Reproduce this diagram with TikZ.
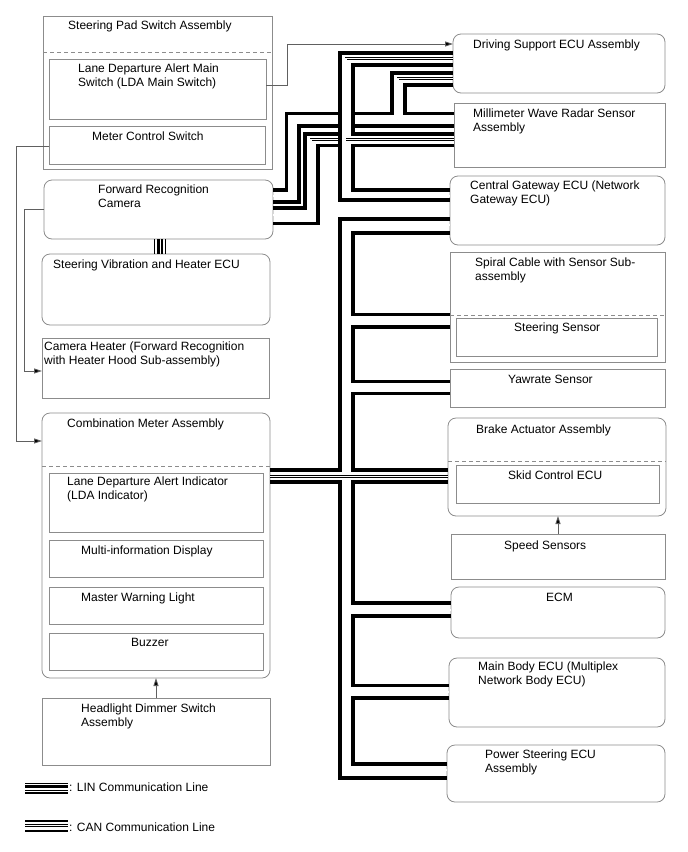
\documentclass[tikz,border=0pt]{standalone}
\usepackage{fontspec}
\setmainfont{Liberation Sans}
\usetikzlibrary{arrows.meta}
\definecolor{boxgray}{HTML}{8C8C8C}
\definecolor{siggray}{HTML}{606060}
\begin{document}
\begin{tikzpicture}[x=1pt,y=-1pt,
  bx/.style={draw=boxgray,line width=0.8pt,inner sep=0pt,outer sep=0pt,anchor=north west},
  rbx/.style={bx,rounded corners=8pt},
  lbl/.style={anchor=north west,inner sep=0pt,align=left,font=\fontsize{12}{14.5}\selectfont},
  thk/.style={line width=3.5pt},
  thn/.style={line width=0.7pt,double distance=1.1pt},
  sig/.style={draw=siggray,line width=0.8pt,-{Triangle[length=8pt,width=5pt,fill=black]}},
  dsh/.style={draw=boxgray,line width=0.8pt,dash pattern=on 4pt off 3pt},
]
\useasboundingbox (0,0) rectangle (688,852);
% ---------------- left column
\node[bx,minimum width=229pt,minimum height=153pt] (sps) at (43,16) {};
\draw[dsh] (43,52) -- (272,52);
\node[bx,minimum width=217pt,minimum height=60pt] (lda) at (49,59) {};
\node[bx,minimum width=216pt,minimum height=38pt] (mcs) at (49,126) {};
\node[lbl] (t-sps) at (68,20.5) {Steering Pad Switch Assembly};
\node[lbl] (t-lda) at (78,63.5) {Lane Departure Alert Main\\Switch (LDA Main Switch)};
\node[lbl] (t-mcs) at (92,131.5) {Meter Control Switch};

\node[rbx,minimum width=229pt,minimum height=59pt] (cam) at (44,180) {};
\node[lbl] (t-cam) at (98,184.5) {Forward Recognition\\Camera};

\node[rbx,minimum width=228pt,minimum height=71pt] (svh) at (42,254) {};
\node[lbl] (t-svh) at (53,259.5) {Steering Vibration and Heater ECU};

\node[bx,minimum width=227pt,minimum height=60pt] (chh) at (42,338) {};
\node[lbl] (t-chh) at (44,341.5) {Camera Heater (Forward Recognition\\with Heater Hood Sub-assembly)};

\node[rbx,minimum width=228pt,minimum height=265pt] (cma) at (42,413) {};
\draw[dsh] (42,466) -- (270,466);
\node[lbl] (t-cma) at (67,418.5) {Combination Meter Assembly};
\node[bx,minimum width=214pt,minimum height=59pt] (ldi) at (49,473) {};
\node[lbl] (t-ldi) at (67,476.5) {Lane Departure Alert Indicator\\(LDA Indicator)};
\node[bx,minimum width=214pt,minimum height=37pt] (mid) at (49,540) {};
\node[lbl] (t-mid) at (81,545.5) {Multi-information Display};
\node[bx,minimum width=214pt,minimum height=37pt] (mwl) at (49,587) {};
\node[lbl] (t-mwl) at (81,592.5) {Master Warning Light};
\node[bx,minimum width=214pt,minimum height=37pt] (buz) at (49,633) {};
\node[lbl] (t-buz) at (131,638.5) {Buzzer};

\node[bx,minimum width=228pt,minimum height=67pt] (hds) at (42,698) {};
\node[lbl] (t-hds) at (81,703.5) {Headlight Dimmer Switch\\Assembly};

% ---------------- right column
\node[rbx,minimum width=212pt,minimum height=59pt] (dse) at (453,34) {};
\node[lbl] (t-dse) at (473,39.5) {Driving Support ECU Assembly};
\node[bx,minimum width=211pt,minimum height=64pt] (mwr) at (454,103) {};
\node[lbl] (t-mwr) at (473,108.5) {Millimeter Wave Radar Sensor\\Assembly};
\node[rbx,minimum width=215pt,minimum height=69pt] (cgw) at (450,176) {};
\node[lbl] (t-cgw) at (470,180.5) {Central Gateway ECU (Network\\Gateway ECU)};
\node[bx,minimum width=215pt,minimum height=110pt] (spc) at (450,252) {};
\draw[dsh] (450,315) -- (665,315);
\node[lbl] (t-spc) at (475,257.5) {Spiral Cable with Sensor Sub-\\assembly};
\node[bx,minimum width=201pt,minimum height=38pt] (sts) at (456,318) {};
\node[lbl] (t-sts) at (514,322.5) {Steering Sensor};
\node[bx,minimum width=215pt,minimum height=38pt] (yaw) at (450,369) {};
\node[lbl] (t-yaw) at (508,374.5) {Yawrate Sensor};
\node[rbx,minimum width=218pt,minimum height=98pt] (bra) at (448,418) {};
\draw[dsh] (448,461) -- (666,461);
\node[lbl] (t-bra) at (476,424.5) {Brake Actuator Assembly};
\node[bx,minimum width=203pt,minimum height=38pt] (skd) at (456,465) {};
\node[lbl] (t-skd) at (508,470.5) {Skid Control ECU};
\node[bx,minimum width=214pt,minimum height=45pt] (spd) at (451,534) {};
\node[lbl] (t-spd) at (504,540.5) {Speed Sensors};
\node[rbx,minimum width=214pt,minimum height=51pt] (ecm) at (451,587) {};
\node[lbl] (t-ecm) at (546,592.5) {ECM};
\node[rbx,minimum width=216pt,minimum height=69pt] (mbe) at (449,658) {};
\node[lbl] (t-mbe) at (478,661.5) {Main Body ECU (Multiplex\\Network Body ECU)};
\node[rbx,minimum width=218pt,minimum height=57pt] (pse) at (447,745) {};
\node[lbl] (t-pse) at (485,749.5) {Power Steering ECU\\Assembly};

% ---------------- signal lines
\draw[sig] (mcs.west |- 0,146) -- (16,146) -- (16,441) -- (cma.west |- 0,441);
\draw[sig] (cam.west |- 0,209) -- (24,209) -- (24,371) -- (chh.west |- 0,371);
\draw[sig] (lda.east |- 0,85) -- (287,85) -- (287,44) -- (dse.west |- 0,44);
\draw[sig] (spd.north) -- (spd.north |- bra.south);
\draw[sig] (hds.north -| 156,0) -- (156,678);

% ---------------- LIN line camera - steering vibration ECU
\draw[line width=0.8pt] (154.5,239) -- (154.5,254);
\draw[line width=2.6pt] (158.3,239) -- (158.3,254);
\draw[line width=2.6pt] (162.0,239) -- (162.0,254);
\draw[line width=0.8pt] (165.5,239) -- (165.5,254);

% ---------------- CAN: camera stairs (group A)
\draw[thk] (273,190) -- (286.5,190) -- (286.5,113.5) -- (340,113.5);
\draw[thn] (273,196) -- (293,196) -- (293,119) -- (340,119);
\draw[thk] (273,202) -- (299,202) -- (299,126) -- (340,126);
% camera stairs (group B)
\draw[thk] (273,208) -- (305,208) -- (305,134) -- (340,134);
\draw[thn] (273,215) -- (311,215) -- (311,139.5) -- (340,139.5);
\draw[thk] (273,223.5) -- (318,223.5) -- (318,145.5) -- (340,145.5);
% right side of crossing
\draw[thk] (353,113.5) -- (392,113.5) -- (392,73) -- (453,73);
\draw[thn] (353,119) -- (454,119);
\draw[thn] (398,119) -- (398,78.5) -- (453,78.5);
\draw[thk] (353,126) -- (454,126);
\draw[thk] (453,85) -- (405,85) -- (405,113.5) -- (454,113.5);

% ---------------- upper bus DS - MWR - CGW
\draw[thk] (453,53) -- (340,53) -- (340,200) -- (450,200);
\draw[thn] (453,58.5) -- (346,58.5) -- (346,196) -- (450,196);
\draw[thn] (346,139.5) -- (454,139.5);
\draw[thk] (453,65) -- (353,65) -- (353,134) -- (454,134);
\draw[thk] (454,145.5) -- (353,145.5) -- (353,190) -- (450,190);

% ---------------- lower bus CGW ... PS
\draw[thk] (450,219) -- (340,219) -- (340,470) -- (270,470);
\draw[thk] (270,482) -- (340,482) -- (340,778) -- (447,778);
\draw[thn] (450,225) -- (346,225) -- (346,770) -- (447,770);
\draw[thn] (346,319) -- (450,319);
\draw[thn] (346,386) -- (450,386);
\draw[thn] (270,476.5) -- (448,476.5);
\draw[thn] (346,610) -- (451,610);
\draw[thn] (346,692) -- (449,692);
\draw[thk] (450,233) -- (353,233) -- (353,314.5) -- (450,314.5);
\draw[thk] (450,327) -- (353,327) -- (353,381.5) -- (450,381.5);
\draw[thk] (450,393.5) -- (353,393.5) -- (353,470) -- (448,470);
\draw[thk] (448,482) -- (353,482) -- (353,603) -- (451,603);
\draw[thk] (451,616) -- (353,616) -- (353,685.5) -- (449,685.5);
\draw[thk] (449,698) -- (353,698) -- (353,764) -- (447,764);

% ---------------- legend
\draw[line width=0.8pt] (25,783) -- (68,783);
\draw[line width=2.6pt] (25,786.5) -- (68,786.5);
\draw[line width=0.8pt] (25,790) -- (68,790);
\draw[line width=2.6pt] (25,793) -- (68,793);
\node[lbl,anchor=west] (t-lin) at (69,787) {: LIN Communication Line};
\draw[line width=2.6pt] (25,821) -- (68,821);
\draw[thn] (25,825.5) -- (68,825.5);
\draw[line width=2.6pt] (25,831) -- (68,831);
\node[lbl,anchor=west] (t-can) at (69,827) {: CAN Communication Line};
\end{tikzpicture}
\end{document}
